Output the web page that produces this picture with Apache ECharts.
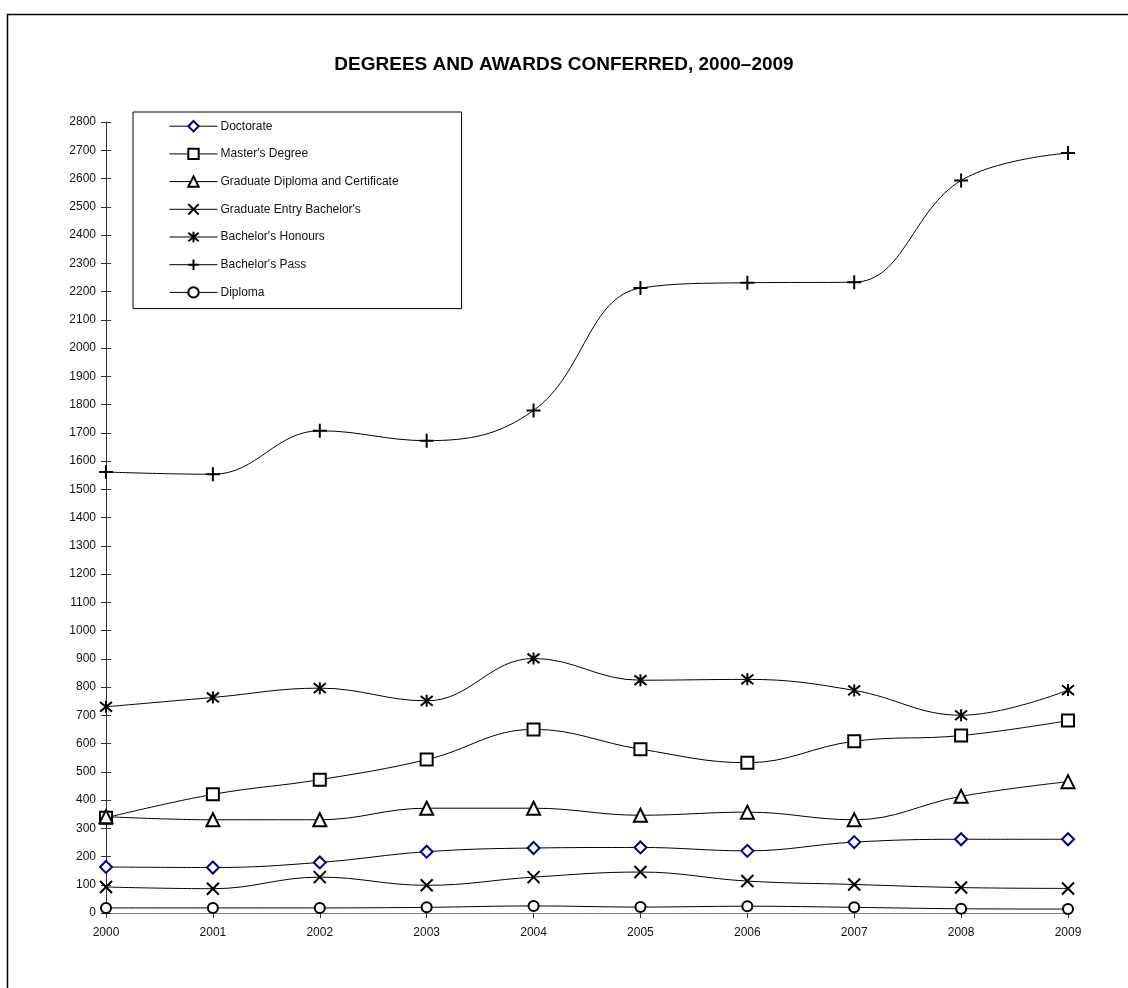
<!DOCTYPE html>
<html>
<head>
<meta charset="utf-8">
<title>Degrees and Awards Conferred, 2000–2009</title>
<script src="https://cdn.jsdelivr.net/npm/echarts@6/dist/echarts.min.js"></script>
<style>
  html, body { margin: 0; padding: 0; background: #fff; }
  #chart { width: 1128px; height: 988px; }
</style>
</head>
<body>
<div id="chart"></div>
<script>
// Years on the horizontal axis
const years = ['2000', '2001', '2002', '2003', '2004', '2005', '2006', '2007', '2008', '2009'];

// Awards conferred per year, by award type
const doctorate = [163, 161, 179, 217, 230, 232, 220, 251, 261, 261];
const mastersDegree = [337, 420, 472, 543, 650, 580, 532, 608, 628, 681];
const graduateDiploma = [341, 330, 330, 371, 371, 346, 357, 330, 413, 465];
const graduateEntryBachelors = [92, 86, 127, 98, 127, 145, 113, 101, 90, 87];
const bachelorsHonours = [730, 763, 796, 751, 901, 824, 827, 788, 700, 789];
const bachelorsPass = [1561, 1553, 1707, 1672, 1779, 2212, 2231, 2233, 2593, 2690];
const diploma = [18, 18, 18, 20, 25, 21, 24, 20, 15, 14];

// Value axis range
const yMin = 0;
const yMax = 2800;
const yStep = 100;

const FONT = '"Liberation Sans", Arial, Helvetica, sans-serif';

// Stroke-only marker shapes
const SYM_CROSS = 'path://M0,0L10,10M10,0L0,10';
const SYM_PLUS = 'path://M5,0L5,10M0,5L10,5';
const SYM_STAR = 'path://M0,0L10,10M10,0L0,10M5,-1.2L5,11.2';

function makeSeries(name, data, symbol, size, edge, fill) {
  return {
    name: name,
    type: 'line',
    data: data,
    smooth: 0.4,
    symbol: symbol,
    symbolSize: size,
    showAllSymbol: true,
    lineStyle: { color: '#000', width: 1 },
    itemStyle: { color: fill, borderColor: edge, borderWidth: 2 },
    emphasis: { disabled: true },
    z: 3
  };
}

const seriesList = [
  makeSeries('Doctorate', doctorate, 'diamond', 12, '#00007f', '#fff'),
  makeSeries("Master's Degree", mastersDegree, 'rect', 12, '#000', '#fff'),
  makeSeries('Graduate Diploma and Certificate', graduateDiploma, 'triangle', 13, '#000', '#fff'),
  makeSeries("Graduate Entry Bachelor's", graduateEntryBachelors, SYM_CROSS, 12, '#000', '#000'),
  makeSeries("Bachelor's Honours", bachelorsHonours, SYM_STAR, 12, '#000', '#000'),
  makeSeries("Bachelor's Pass", bachelorsPass, SYM_PLUS, 14, '#000', '#000'),
  makeSeries('Diploma', diploma, 'circle', 10, '#000', '#fff')
];

const valueAxisBase = {
  type: 'value',
  min: yMin,
  max: yMax,
  interval: yStep,
  splitLine: { show: false }
};

const chart = echarts.init(document.getElementById('chart'), null, { renderer: 'canvas' });

chart.setOption({
  animation: false,
  backgroundColor: '#fff',
  textStyle: { fontFamily: FONT },
  title: {
    text: 'DEGREES AND AWARDS CONFERRED, 2000–2009',
    left: 'center',
    top: 50,
    textStyle: { fontFamily: FONT, fontSize: 19, fontWeight: 'bold', color: '#000' }
  },
  graphic: [{
    type: 'rect',
    shape: { x: 7.5, y: 14.5, width: 1300, height: 1100 },
    style: { fill: 'none', stroke: '#000', lineWidth: 1.5 },
    silent: true
  }],
  legend: {
    orient: 'vertical',
    left: 133,
    top: 112,
    itemWidth: 48,
    itemHeight: 13,
    itemGap: 15.3,
    padding: [8, 63, 10, 36],
    backgroundColor: '#fff',
    borderColor: '#000',
    borderWidth: 1,
    selectedMode: false,
    lineStyle: { width: 1, color: '#000' },
    itemStyle: { borderWidth: 2 },
    textStyle: { fontFamily: FONT, fontSize: 12, color: '#111', padding: [0, 0, 0, -2] }
  },
  grid: {
    left: 106,
    right: 60,
    top: 122,
    bottom: 75,
    containLabel: false
  },
  xAxis: {
    type: 'category',
    data: years,
    boundaryGap: false,
    axisLine: { lineStyle: { color: '#808080', width: 1 } },
    axisTick: { show: true, length: 5, lineStyle: { color: '#333' } },
    axisLabel: { fontFamily: FONT, fontSize: 12, color: '#111', margin: 14 },
    splitLine: { show: false }
  },
  yAxis: [
    Object.assign({}, valueAxisBase, {
      axisLine: { show: true, lineStyle: { color: '#333', width: 1 } },
      axisTick: { show: true, length: 5, lineStyle: { color: '#333' } },
      axisLabel: {
        fontFamily: FONT, fontSize: 12, color: '#111', margin: 10,
        formatter: function (v) { return String(v); }
      }
    }),
    Object.assign({}, valueAxisBase, {
      position: 'left',
      axisLine: { show: false },
      axisTick: { show: true, inside: true, length: 5, lineStyle: { color: '#333' } },
      axisLabel: { show: false }
    })
  ],
  series: seriesList
});
</script>
</body>
</html>
